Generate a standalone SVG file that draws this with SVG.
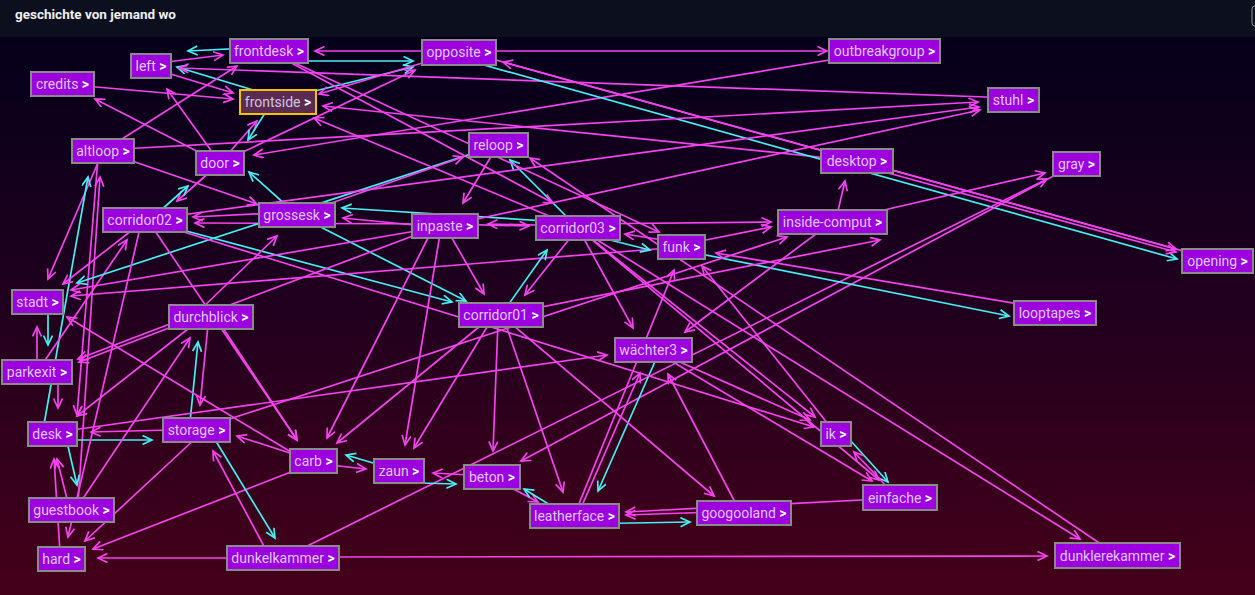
<svg xmlns="http://www.w3.org/2000/svg" width="1255" height="595" viewBox="0 0 1255 595">
<defs>
<linearGradient id="bg" x1="0" y1="0" x2="0" y2="1">
<stop offset="0" stop-color="#05001a"/>
<stop offset="0.5" stop-color="#21001e"/>
<stop offset="1" stop-color="#450019"/>
</linearGradient>
<marker id="am" markerWidth="14" markerHeight="14" refX="10" refY="5" orient="auto" markerUnits="userSpaceOnUse"><path d="M0.5,0.5 L10,5 L0.5,9.5" fill="none" stroke="#f443ef" stroke-width="1.7"/></marker>
<marker id="ac" markerWidth="14" markerHeight="14" refX="10" refY="5" orient="auto" markerUnits="userSpaceOnUse"><path d="M0.5,0.5 L10,5 L0.5,9.5" fill="none" stroke="#48eef0" stroke-width="1.7"/></marker>
<style>
.m{stroke:#f443ef;marker-end:url(#am)}
.c{stroke:#48eef0;marker-end:url(#ac)}
.n rect{fill:#9c00de;stroke:#8a8a8a;stroke-width:2}
.n text{font-family:Roboto,"Liberation Sans",sans-serif;font-size:14px;fill:#dec8f0;text-anchor:middle}
.g{font-weight:bold;fill:#ffffff}
#n-frontside rect{fill:#5c2b52;stroke:#f2c400}
#n-frontside text{fill:#cfc3e4}
</style>
</defs>
<rect x="0" y="37" width="1255" height="558" fill="url(#bg)"/>
<rect x="0" y="0" width="1255" height="37" fill="#0b0f1e"/>
<text x="15" y="19" font-family="Roboto,'Liberation Sans',sans-serif" font-size="13.5" font-weight="bold" fill="#f0f0f0">geschichte von jemand wo</text>
<rect x="1252" y="6" width="20" height="20" rx="3" fill="none" stroke="#9a9a9a" stroke-width="1"/>
<g id="edges" fill="none" stroke-width="1.7">
<path class="c" d="M269,47 L188,51"/>
<path class="m" d="M151,64 L223,55"/>
<path class="m" d="M459,51 L315,51"/>
<path class="c" d="M269,61 L413,61"/>
<path class="m" d="M459,51 L827,51"/>
<path class="c" d="M278,100 L413,67"/>
<path class="c" d="M270,95 L177,67"/>
<path class="m" d="M151,68 L233,93"/>
<path class="m" d="M62,84 L233,99"/>
<path class="m" d="M1013,98 L179,68"/>
<path class="m" d="M857,161 L323,106"/>
<path class="m" d="M884,51 L254,155"/>
<path class="m" d="M220,163 L257,121"/>
<path class="c" d="M272,102 L248,140"/>
<path class="m" d="M103,151 L237,66"/>
<path class="m" d="M220,163 L167,89"/>
<path class="m" d="M220,163 L95,99"/>
<path class="m" d="M220,163 L415,70"/>
<path class="m" d="M459,52 L319,94"/>
<path class="m" d="M103,151 L257,204"/>
<path class="m" d="M220,163 L177,201"/>
<path class="c" d="M150,220 L188,186"/>
<path class="c" d="M297,215 L249,172"/>
<path class="c" d="M297,215 L466,301"/>
<path class="c" d="M145,220 L452,302"/>
<path class="m" d="M297,212 L193,217"/>
<path class="m" d="M445,224 L195,223"/>
<path class="m" d="M103,151 L48,279"/>
<path class="c" d="M43,430 L88,177"/>
<path class="m" d="M78,503 L100,177"/>
<path class="m" d="M98,158 L77,415"/>
<path class="m" d="M145,220 L63,284"/>
<path class="m" d="M37,372 L127,240"/>
<path class="c" d="M498,145 L77,283"/>
<path class="m" d="M445,226 L71,290"/>
<path class="m" d="M681,247 L71,296"/>
<path class="c" d="M459,58 L1177,259"/>
<path class="m" d="M870,168 L1176,252"/>
<path class="m" d="M1217,260.4 L503,62"/>
<path class="m" d="M459,49.8 L1176,249"/>
<path class="m" d="M837,215 L845,181"/>
<path class="m" d="M832,222 L1045,173"/>
<path class="m" d="M283,558 L1047,179"/>
<path class="m" d="M1076,164 L521,461"/>
<path class="m" d="M1055,310 L716,253"/>
<path class="c" d="M681,250 L1009,316"/>
<path class="m" d="M1117,555 L530,158"/>
<path class="m" d="M498,145 L463,203"/>
<path class="c" d="M578,228 L510,160"/>
<path class="m" d="M297,215 L463,157"/>
<path class="c" d="M578,223 L342,208"/>
<path class="m" d="M445,228 L343,218"/>
<path class="m" d="M445,224 L529,226"/>
<path class="m" d="M578,226 L488,224"/>
<path class="m" d="M578,228 L314,118"/>
<path class="m" d="M269,51 L553,203"/>
<path class="m" d="M269,51 L659,232"/>
<path class="m" d="M103,150 L978,102"/>
<path class="m" d="M145,220 L979,107"/>
<path class="m" d="M445,226 L980,110"/>
<path class="m" d="M578,224 L771,222"/>
<path class="m" d="M681,245 L771,227"/>
<path class="m" d="M681,243 L625,234"/>
<path class="c" d="M578,232 L650,250"/>
<path class="c" d="M501,315 L547,250"/>
<path class="m" d="M578,228 L525,295"/>
<path class="m" d="M445,226 L484,294"/>
<path class="m" d="M196,430 L787,237"/>
<path class="m" d="M501,315 L880,240"/>
<path class="m" d="M832,222 L685,332"/>
<path class="m" d="M578,228 L633,328"/>
<path class="c" d="M657,357 L598,491"/>
<path class="m" d="M580,510 L640,373"/>
<path class="m" d="M737,506 L668,374"/>
<path class="m" d="M653,350 L810,420"/>
<path class="m" d="M653,350 L872,481"/>
<path class="m" d="M578,228 L815,417"/>
<path class="m" d="M145,220 L814,427"/>
<path class="m" d="M578,228 L879,480"/>
<path class="m" d="M578,228 L1080,539"/>
<path class="m" d="M836,434 L702,266"/>
<path class="m" d="M574,516 L674,270"/>
<path class="c" d="M850,440 L888,482"/>
<path class="m" d="M890,490 L854,452"/>
<path class="m" d="M900,498 L626,512"/>
<path class="m" d="M744,511 L626,515"/>
<path class="c" d="M574,524 L690,522"/>
<path class="m" d="M501,315 L714,496"/>
<path class="m" d="M505,322 L563,492"/>
<path class="m" d="M498,322 L493,451"/>
<path class="m" d="M490,322 L414,448"/>
<path class="m" d="M485,322 L337,443"/>
<path class="m" d="M430,234 L327,438"/>
<path class="m" d="M440,234 L405,445"/>
<path class="m" d="M508,486 L538,502"/>
<path class="c" d="M555,508 L524,489"/>
<path class="m" d="M470,475 L433,473"/>
<path class="c" d="M420,483 L456,484"/>
<path class="m" d="M330,465 L366,469"/>
<path class="c" d="M380,465 L346,455"/>
<path class="m" d="M296,455 L237,436"/>
<path class="m" d="M221,325 L297,440"/>
<path class="m" d="M296,470 L93,549"/>
<path class="m" d="M196,438 L85,541"/>
<path class="m" d="M235,558 L98,558"/>
<path class="m" d="M330,557 L1047,556"/>
<path class="c" d="M214,438 L275,538"/>
<path class="m" d="M266,550 L213,451"/>
<path class="c" d="M190,422 L198,342"/>
<path class="m" d="M208,325 L200,405"/>
<path class="c" d="M72,440 L152,440"/>
<path class="m" d="M170,430 L91,432"/>
<path class="m" d="M72,430 L607,355"/>
<path class="m" d="M175,322 L78,359"/>
<path class="m" d="M418,234 L79,362"/>
<path class="m" d="M58,380 L58,408"/>
<path class="c" d="M48,310 L48,345"/>
<path class="m" d="M37,365 L37,327"/>
<path class="m" d="M193,325 L77,416"/>
<path class="m" d="M80,503 L190,338"/>
<path class="m" d="M200,310 L277,236"/>
<path class="c" d="M67,442 L77,485"/>
<path class="m" d="M68,503 L57,459"/>
<path class="m" d="M60,552 L54,459"/>
<path class="m" d="M140,228 L68,537"/>
<path class="m" d="M153,228 L297,440"/>
<path class="m" d="M296,455 L67,317"/>
</g>
<g id="n-frontdesk" class="n"><rect x="230" y="39" width="78" height="24"/><text x="269" y="56">frontdesk<tspan class="g"> &gt;</tspan></text></g>
<g id="n-opposite" class="n"><rect x="422" y="40" width="74" height="25"/><text x="459" y="57">opposite<tspan class="g"> &gt;</tspan></text></g>
<g id="n-outbreakgroup" class="n"><rect x="829" y="39" width="111" height="24"/><text x="884.5" y="56">outbreakgroup<tspan class="g"> &gt;</tspan></text></g>
<g id="n-left" class="n"><rect x="131" y="54" width="40" height="24"/><text x="151" y="71">left<tspan class="g"> &gt;</tspan></text></g>
<g id="n-credits" class="n"><rect x="31" y="72" width="63" height="24"/><text x="62.5" y="89">credits<tspan class="g"> &gt;</tspan></text></g>
<g id="n-frontside" class="n"><rect x="240" y="90" width="76" height="24"/><text x="278" y="107">frontside<tspan class="g"> &gt;</tspan></text></g>
<g id="n-stuhl" class="n"><rect x="988" y="88" width="51" height="24"/><text x="1013.5" y="105">stuhl<tspan class="g"> &gt;</tspan></text></g>
<g id="n-altloop" class="n"><rect x="72" y="139" width="62" height="24"/><text x="103" y="156">altloop<tspan class="g"> &gt;</tspan></text></g>
<g id="n-door" class="n"><rect x="196" y="151" width="48" height="24"/><text x="220" y="168">door<tspan class="g"> &gt;</tspan></text></g>
<g id="n-reloop" class="n"><rect x="469" y="133" width="59" height="24"/><text x="498.5" y="150">reloop<tspan class="g"> &gt;</tspan></text></g>
<g id="n-desktop" class="n"><rect x="821" y="149" width="72" height="24"/><text x="857" y="166">desktop<tspan class="g"> &gt;</tspan></text></g>
<g id="n-gray" class="n"><rect x="1053" y="152" width="47" height="24"/><text x="1076.5" y="169">gray<tspan class="g"> &gt;</tspan></text></g>
<g id="n-corridor02" class="n"><rect x="103" y="208" width="84" height="24"/><text x="145" y="225">corridor02<tspan class="g"> &gt;</tspan></text></g>
<g id="n-grossesk" class="n"><rect x="259" y="203" width="76" height="24"/><text x="297" y="220">grossesk<tspan class="g"> &gt;</tspan></text></g>
<g id="n-inpaste" class="n"><rect x="412" y="214" width="66" height="24"/><text x="445" y="231">inpaste<tspan class="g"> &gt;</tspan></text></g>
<g id="n-corridor03" class="n"><rect x="536" y="216" width="84" height="24"/><text x="578" y="233">corridor03<tspan class="g"> &gt;</tspan></text></g>
<g id="n-inside-comput" class="n"><rect x="778" y="210" width="109" height="24"/><text x="832.5" y="227">inside-comput<tspan class="g"> &gt;</tspan></text></g>
<g id="n-funk" class="n"><rect x="658" y="235" width="47" height="24"/><text x="681.5" y="252">funk<tspan class="g"> &gt;</tspan></text></g>
<g id="n-opening" class="n"><rect x="1182" y="249" width="71" height="24"/><text x="1217.5" y="266">opening<tspan class="g"> &gt;</tspan></text></g>
<g id="n-stadt" class="n"><rect x="12" y="290" width="51" height="24"/><text x="37.5" y="307">stadt<tspan class="g"> &gt;</tspan></text></g>
<g id="n-durchblick" class="n"><rect x="169" y="305" width="84" height="24"/><text x="211" y="322">durchblick<tspan class="g"> &gt;</tspan></text></g>
<g id="n-corridor01" class="n"><rect x="459" y="303" width="84" height="24"/><text x="501" y="320">corridor01<tspan class="g"> &gt;</tspan></text></g>
<g id="n-looptapes" class="n"><rect x="1014" y="301" width="82" height="24"/><text x="1055" y="318">looptapes<tspan class="g"> &gt;</tspan></text></g>
<g id="n-waechter3" class="n"><rect x="615" y="338" width="77" height="24"/><text x="653.5" y="355">wächter3<tspan class="g"> &gt;</tspan></text></g>
<g id="n-parkexit" class="n"><rect x="2" y="360" width="70" height="24"/><text x="37" y="377">parkexit<tspan class="g"> &gt;</tspan></text></g>
<g id="n-desk" class="n"><rect x="28" y="422" width="49" height="24"/><text x="52.5" y="439">desk<tspan class="g"> &gt;</tspan></text></g>
<g id="n-storage" class="n"><rect x="163" y="418" width="67" height="24"/><text x="196.5" y="435">storage<tspan class="g"> &gt;</tspan></text></g>
<g id="n-ik" class="n"><rect x="821" y="422" width="30" height="24"/><text x="836" y="439">ik<tspan class="g"> &gt;</tspan></text></g>
<g id="n-carb" class="n"><rect x="290" y="449" width="47" height="24"/><text x="313.5" y="466">carb<tspan class="g"> &gt;</tspan></text></g>
<g id="n-zaun" class="n"><rect x="374" y="459" width="50" height="24"/><text x="399" y="476">zaun<tspan class="g"> &gt;</tspan></text></g>
<g id="n-beton" class="n"><rect x="464" y="465" width="56" height="24"/><text x="492" y="482">beton<tspan class="g"> &gt;</tspan></text></g>
<g id="n-einfache" class="n"><rect x="863" y="485" width="74" height="25"/><text x="900" y="502.5">einfache<tspan class="g"> &gt;</tspan></text></g>
<g id="n-guestbook" class="n"><rect x="29" y="498" width="85" height="24"/><text x="71.5" y="515">guestbook<tspan class="g"> &gt;</tspan></text></g>
<g id="n-leatherface" class="n"><rect x="530" y="504" width="89" height="24"/><text x="574.5" y="521">leatherface<tspan class="g"> &gt;</tspan></text></g>
<g id="n-googooland" class="n"><rect x="697" y="501" width="94" height="24"/><text x="744" y="518">googooland<tspan class="g"> &gt;</tspan></text></g>
<g id="n-hard" class="n"><rect x="38" y="547" width="47" height="24"/><text x="61.5" y="564">hard<tspan class="g"> &gt;</tspan></text></g>
<g id="n-dunkelkammer" class="n"><rect x="227" y="546" width="112" height="24"/><text x="283" y="563">dunkelkammer<tspan class="g"> &gt;</tspan></text></g>
<g id="n-dunklerekammer" class="n"><rect x="1055" y="543" width="125" height="25"/><text x="1117.5" y="560.5">dunklerekammer<tspan class="g"> &gt;</tspan></text></g>
</svg>
